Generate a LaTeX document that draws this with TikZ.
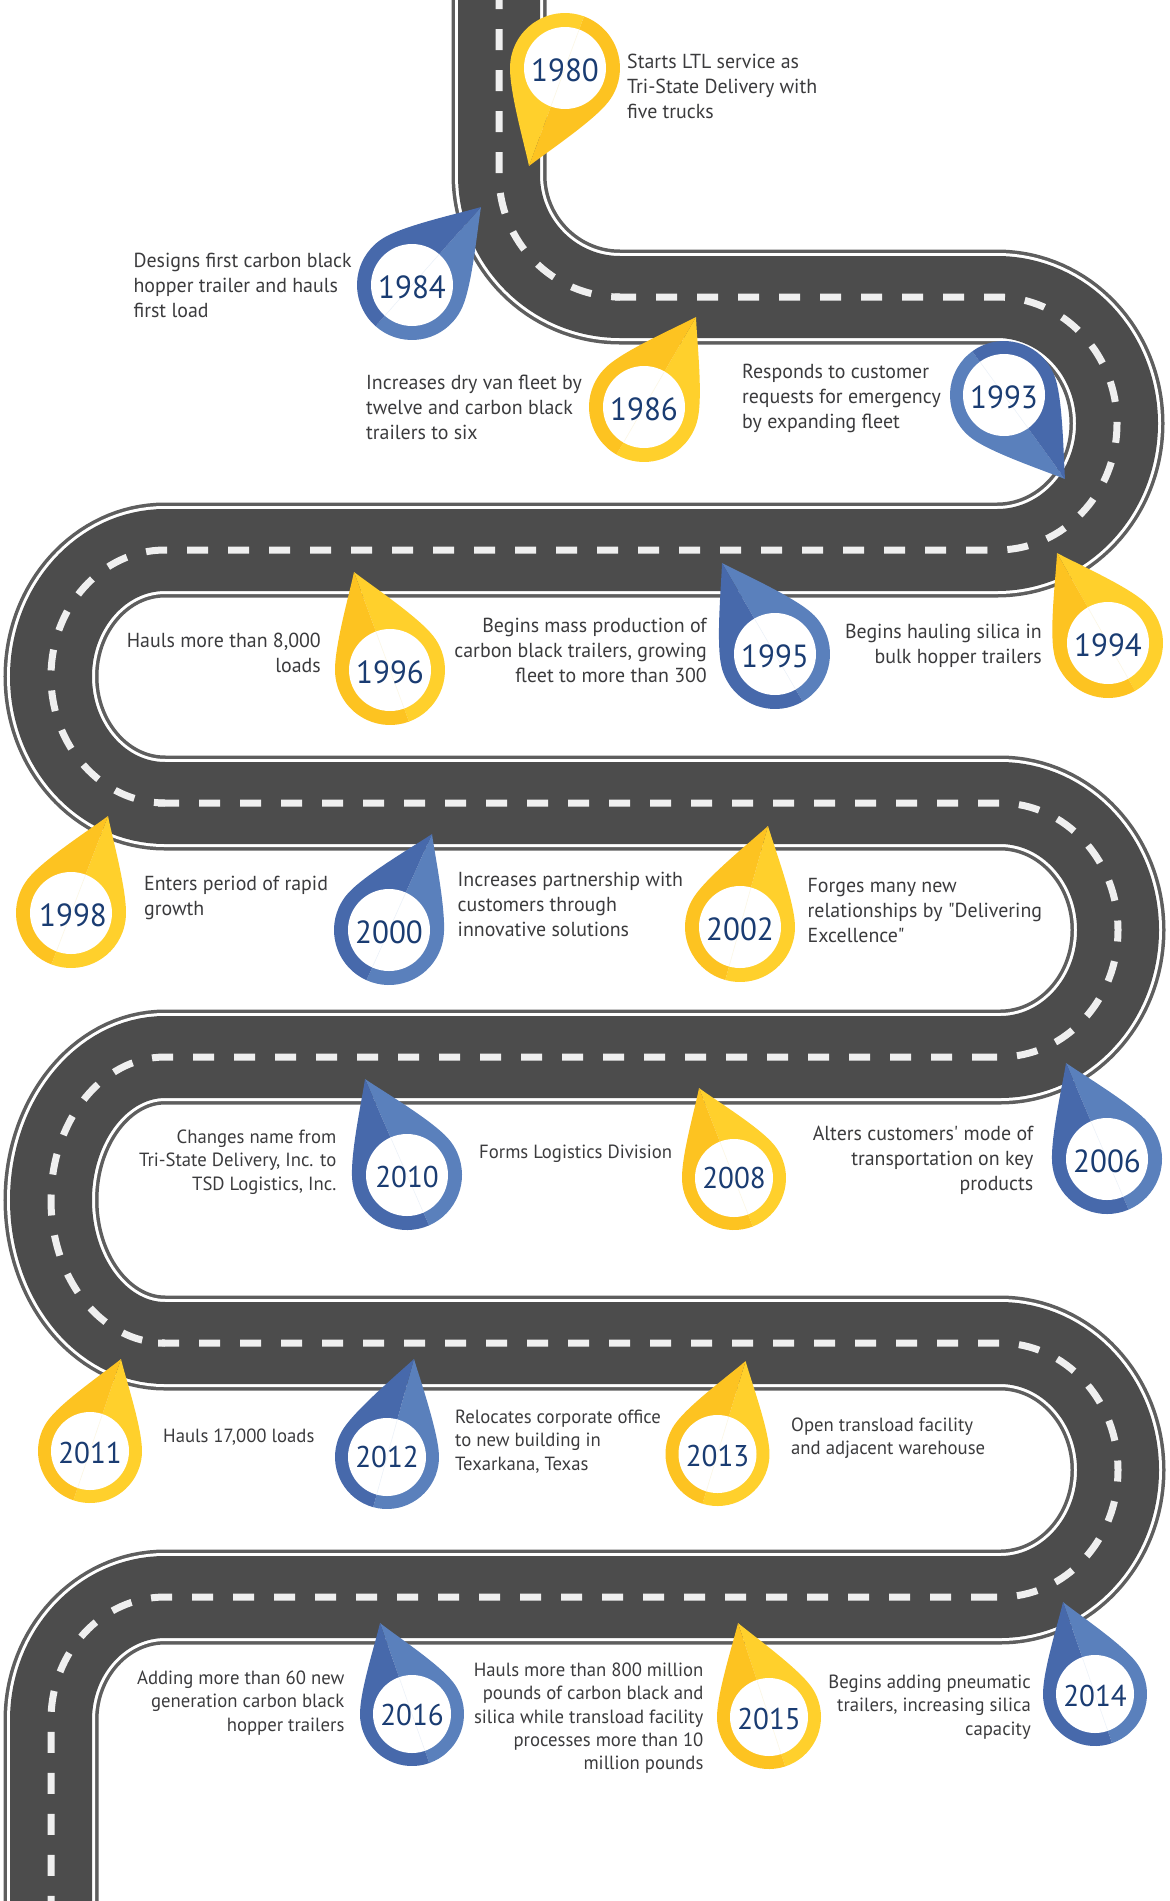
\documentclass[tikz,border=0pt]{standalone}
\usepackage{fontspec}
\setmainfont{PT Sans}[Ligatures=TeXOff,FakeStretch=0.98]
\newfontfamily\yearfont{PT Sans}[FakeStretch=0.97]
\definecolor{roadc}{HTML}{4C4C4C}
\definecolor{roadedge}{HTML}{5E5E5E}
\definecolor{dashc}{HTML}{EFEFEF}
\definecolor{yearc}{HTML}{1A3C72}
\definecolor{txtc}{HTML}{3B3B3D}
\definecolor{lightyel}{HTML}{FFD02C}
\definecolor{darkyel}{HTML}{FDC321}
\definecolor{hairyel}{HTML}{FBF6E2}
\definecolor{lightblu}{HTML}{5A80BC}
\definecolor{darkblu}{HTML}{4769AB}
\definecolor{hairblu}{HTML}{EAF0F8}
\tikzset{
  tl/.style={anchor=north west,align=left,inner sep=0pt,text=txtc},
  tr/.style={anchor=north east,align=right,inner sep=0pt,text=txtc},
  fa/.style={font=\fontsize{20.3}{25}\selectfont},
  fb/.style={font=\fontsize{19.1}{23.4}\selectfont},
  yfa/.style={font=\yearfont\fontsize{32}{32}\selectfont,yshift=-2pt},
  yfb/.style={font=\yearfont\fontsize{30}{30}\selectfont,yshift=-2pt},
  dashline/.style={draw=dashc,line width=7pt,dash pattern=on 21pt off 20pt}
}
\newcommand{\txtl}[5]{\node[tl,#4] (#1) at ({#2},{#3-18}) {\rule{0pt}{18pt}#5};}
\newcommand{\txtr}[5]{\node[tr,#4] (#1) at ({#2},{#3-18}) {\rule{0pt}{18pt}#5};}
% year, cx, cy, tx, ty, R, r, scheme, year text style
\newcommand{\pinmark}[9]{%
  \pgfmathsetmacro\pinang{atan2(#3-#5,#4-#2)}%
  \pgfmathsetmacro\pind{veclen(#4-#2,#3-#5)}%
  \def\R{#6}%
  \begin{scope}[shift={(#2,#3)},rotate=\pinang]
    \fill[light#8] (\pind,0) .. controls ({\pind-.35*\R},{.22*\R}) and ({.737*\R},{.812*\R}) .. ({.309*\R},{.951*\R})
      .. controls ({.209*\R},{.984*\R}) and ({.105*\R},\R) .. (0,\R)
      .. controls ({-.552*\R},\R) and (-\R,{.552*\R}) .. (-\R,0) -- cycle;
    \fill[dark#8] (\pind,0) .. controls ({\pind-.35*\R},{-.22*\R}) and ({.737*\R},{-.812*\R}) .. ({.309*\R},{-.951*\R})
      .. controls ({.209*\R},{-.984*\R}) and ({.105*\R},-\R) .. (0,-\R)
      .. controls ({-.552*\R},-\R) and (-\R,{-.552*\R}) .. (-\R,0) -- cycle;
    \node[circle,fill=white,inner sep=0pt,minimum size=#7*2pt] (p#1) at (0,0) {};
    \draw[hair#8,line width=.5pt] (#7,0) -- (-#7,0);
  \end{scope}
  \node[text=yearc,inner sep=0pt,#9] (y#1) at (#2,#3) {#1};
}
\newcommand{\roadpath}{(499,-10) -- (499,175)
  .. controls (499,242.4) and (553.2,297) .. (620,297) -- (997,297)
  .. controls (1063.3,297) and (1117,353.5) .. (1117,423.5)
  .. controls (1117,493.5) and (1063.3,550) .. (997,550) -- (165,550)
  .. controls (102,550) and (51,606.6) .. (51,676.5)
  .. controls (51,746.4) and (102,803) .. (165,803) -- (1000,803)
  .. controls (1065.2,803) and (1118,859.9) .. (1118,930)
  .. controls (1118,1000.1) and (1065.2,1057) .. (1000,1057) -- (165,1057)
  .. controls (102,1057) and (51,1121) .. (51,1200)
  .. controls (51,1279) and (102,1343) .. (165,1343) -- (1000,1343)
  .. controls (1065.2,1343) and (1118,1399.9) .. (1118,1470)
  .. controls (1118,1540.1) and (1065.2,1597) .. (1000,1597) -- (165,1597)
  .. controls (102,1597) and (51,1652) .. (51,1720) -- (51,1915)}
\begin{document}
\begin{tikzpicture}[x=1pt,y=-1pt]
\useasboundingbox (0,0) rectangle (1170,1901);
\clip (0,0) rectangle (1170,1901);
% road
\draw[roadedge,line width=95pt] \roadpath;
\draw[white,line width=88pt] \roadpath;
\draw[roadc,line width=82pt] \roadpath;
% centre dashes
\draw[dashline] (499,-12) -- (499,175) .. controls (499,242.4) and (553.2,297) .. (620,297);
\draw[dashline] (615,297) -- (997,297)
  .. controls (1063.3,297) and (1117,353.5) .. (1117,423.5)
  .. controls (1117,493.5) and (1063.3,550) .. (997,550) -- (987,550);
\draw[dashline] (987,550) -- (165,550)
  .. controls (102,550) and (51,606.6) .. (51,676.5)
  .. controls (51,746.4) and (102,803) .. (165,803);
\draw[dashline] (158,803) -- (1000,803)
  .. controls (1065.2,803) and (1118,859.9) .. (1118,930)
  .. controls (1118,1000.1) and (1065.2,1057) .. (1000,1057) -- (993,1057);
\draw[dashline] (993,1057) -- (165,1057)
  .. controls (102,1057) and (51,1121) .. (51,1200)
  .. controls (51,1279) and (102,1343) .. (165,1343);
\draw[dashline] (158,1343) -- (1000,1343)
  .. controls (1065.2,1343) and (1118,1399.9) .. (1118,1470)
  .. controls (1118,1540.1) and (1065.2,1597) .. (1000,1597) -- (992,1597);
\draw[dashline] (992,1597) -- (165,1597)
  .. controls (102,1597) and (51,1652) .. (51,1720) -- (51,1915);
% pins
\pinmark{1980}{565}{68}{529}{166}{55}{41}{yel}{yfa}
\pinmark{1984}{412}{285}{481}{207}{55}{41}{blu}{yfa}
\pinmark{1986}{644}{407}{696}{317}{55}{41}{yel}{yfa}
\pinmark{1993}{1004}{395}{1065}{479}{54}{41}{blu}{yfa}
\pinmark{1994}{1108}{643}{1057}{553}{55}{41}{yel}{yfa}
\pinmark{1995}{775}{654}{722}{563}{55}{41}{blu}{yfa}
\pinmark{1996}{390}{670}{354}{572}{55}{41}{yel}{yfa}
\pinmark{1998}{71}{913}{108}{816}{55}{41}{yel}{yfa,xshift=2pt}
\pinmark{2000}{389}{930}{432}{834}{55}{41}{blu}{yfa}
\pinmark{2002}{740}{927}{768}{826}{55}{41}{yel}{yfa}
\pinmark{2006}{1107}{1159}{1066}{1063}{55}{41}{blu}{yfa}
\pinmark{2008}{734}{1178}{699}{1088}{52}{39}{yel}{yfb,yshift=2pt}
\pinmark{2010}{407}{1175}{365}{1079}{55}{41}{blu}{yfb}
\pinmark{2011}{90}{1451}{121}{1359}{52}{39}{yel}{yfb}
\pinmark{2012}{387}{1457}{414}{1359}{52}{39}{blu}{yfb,yshift=2pt}
\pinmark{2013}{717.5}{1454}{745.6}{1361}{52}{39}{yel}{yfb}
\pinmark{2014}{1095}{1694}{1063}{1602}{52}{39}{blu}{yfb}
\pinmark{2015}{769}{1717}{738}{1623}{52}{39}{yel}{yfb}
\pinmark{2016}{412}{1714}{380}{1623}{52}{39}{blu}{yfb,yshift=1pt}
% texts
\txtl{t1980}{627}{68}{fa}{Starts LTL service as\\Tri-State Delivery with\\five trucks}
\txtl{t1984}{133.4}{267}{fa}{Designs first carbon black\\hopper trailer and hauls\\first load}
\txtl{t1986}{366}{389}{fa}{Increases dry van fleet by\\twelve and carbon black\\trailers to six}
\txtl{t1993}{742}{378}{fa}{Responds to customer\\requests for emergency\\by expanding fleet}
\txtr{t1994}{1042}{638}{fa}{Begins hauling silica in\\bulk hopper trailers}
\txtr{t1995}{707}{632}{fa}{Begins mass production of\\carbon black trailers, growing\\fleet to more than 300}
\txtr{t1996}{321}{647}{fa}{Hauls more than 8,000\\loads}
\txtl{t1998}{144}{890}{fa}{Enters period of rapid\\growth}
\txtl{t2000}{457.5}{886}{fa}{Increases partnership with\\customers through\\innovative solutions}
\txtl{t2002}{807.5}{892}{fa}{Forges many new\\relationships by "Delivering\\Excellence"}
\txtr{t2006}{1033.5}{1140}{fa}{Alters customers' mode of\\transportation on key\\products}
\txtl{t2008}{479}{1158}{fb}{Forms Logistics Division}
\txtr{t2010}{336.5}{1143}{fb}{Changes name from\\Tri-State Delivery, Inc. to\\TSD Logistics, Inc.}
\txtl{t2011}{163}{1442}{fb}{Hauls 17,000 loads}
\txtl{t2012}{455}{1423}{fb}{Relocates corporate office\\to new building in\\Texarkana, Texas}
\txtl{t2013}{791}{1431}{fb}{Open transload facility\\and adjacent warehouse}
\txtr{t2014}{1031}{1688}{fb}{Begins adding pneumatic\\trailers, increasing silica\\capacity}
\txtr{t2015}{703.6}{1676}{fb}{Hauls more than 800 million\\pounds of carbon black and\\silica while transload facility\\processes more than 10\\million pounds}
\txtr{t2016}{344.6}{1684}{fb}{Adding more than 60 new\\generation carbon black\\hopper trailers}
\end{tikzpicture}
\end{document}
